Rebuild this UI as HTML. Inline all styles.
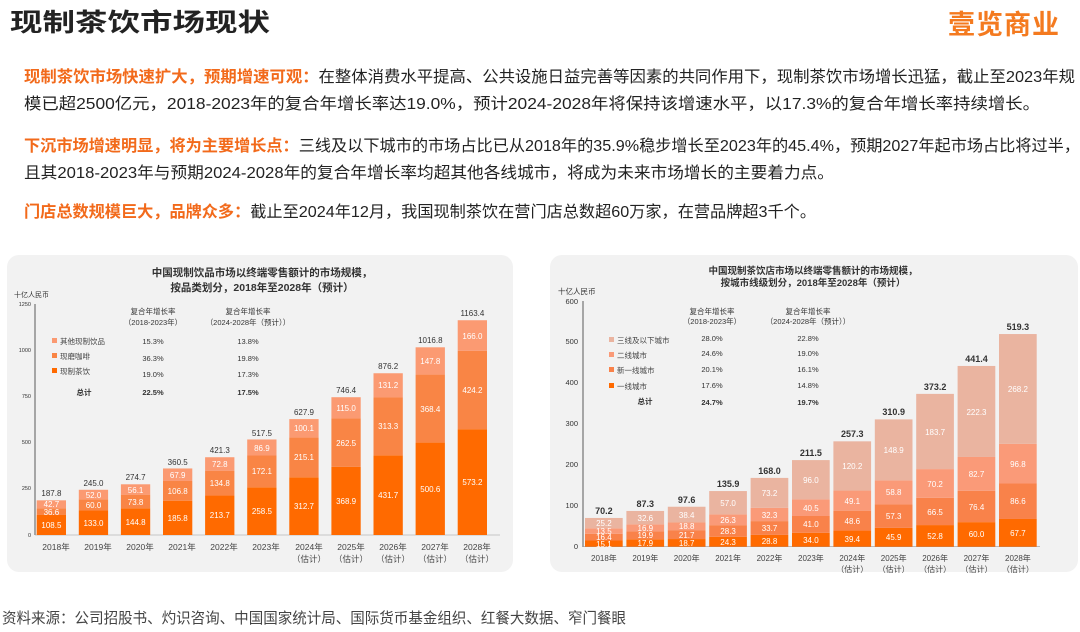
<!DOCTYPE html>
<html><head><meta charset="utf-8"><style>
body{margin:0;width:1080px;height:627px;background:#fff;overflow:hidden;font-family:"Liberation Sans","Noto Sans CJK SC",sans-serif;}
svg text{font-family:"Liberation Sans","Noto Sans CJK SC",sans-serif;}
</style></head><body>
<svg width="1080" height="627" viewBox="0 0 1080 627" xmlns="http://www.w3.org/2000/svg">
<text x="10" y="31" font-size="25" font-weight="bold" fill="#222" textLength="260" lengthAdjust="spacingAndGlyphs">现制茶饮市场现状</text>
<text x="1060" y="34" font-size="27" font-weight="bold" fill="#f47a1f" text-anchor="end" letter-spacing="1">壹览商业</text>
<g font-size="16" fill="#222">
<text x="24" y="82" textLength="1051" lengthAdjust="spacingAndGlyphs"><tspan fill="#f26a1b" font-weight="bold">现制茶饮市场快速扩大，预期增速可观：</tspan>在整体消费水平提高、公共设施日益完善等因素的共同作用下，现制茶饮市场增长迅猛，截止至2023年规</text>
<text x="24" y="109" textLength="1016" lengthAdjust="spacingAndGlyphs">模已超2500亿元，2018-2023年的复合年增长率达19.0%，预计2024-2028年将保持该增速水平，以17.3%的复合年增长率持续增长。</text>
<text x="24" y="151" textLength="1056" lengthAdjust="spacingAndGlyphs"><tspan fill="#f26a1b" font-weight="bold">下沉市场增速明显，将为主要增长点：</tspan>三线及以下城市的市场占比已从2018年的35.9%稳步增长至2023年的45.4%，预期2027年起市场占比将过半，</text>
<text x="24" y="178" textLength="810" lengthAdjust="spacingAndGlyphs">且其2018-2023年与预期2024-2028年的复合年增长率均超其他各线城市，将成为未来市场增长的主要着力点。</text>
<text x="24" y="217" textLength="792" lengthAdjust="spacingAndGlyphs"><tspan fill="#f26a1b" font-weight="bold">门店总数规模巨大，品牌众多：</tspan>截止至2024年12月，我国现制茶饮在营门店总数超60万家，在营品牌超3千个。</text>
</g>
<text x="2" y="623" font-size="15" fill="#444" textLength="624" lengthAdjust="spacingAndGlyphs">资料来源：公司招股书、灼识咨询、中国国家统计局、国际货币基金组织、红餐大数据、窄门餐眼</text>

<!-- LEFT PANEL -->
<rect x="7" y="255" width="506" height="317" rx="12" fill="#f2f2f2"/>
<g font-weight="bold" fill="#333" font-size="10.5" text-anchor="middle">
<text x="262" y="276">中国现制饮品市场以终端零售额计的市场规模，</text>
<text x="262" y="291">按品类划分，2018年至2028年（预计）</text></g>
<text x="14" y="297" font-size="7" fill="#333">十亿人民币</text>
<g font-size="5.5" fill="#333" text-anchor="end">
<text x="31" y="306">1250</text><text x="31" y="352">1000</text><text x="31" y="398">750</text><text x="31" y="444">500</text><text x="31" y="490">250</text><text x="31" y="537">0</text></g>
<line x1="35" y1="304" x2="35" y2="535" stroke="#333" stroke-width="0.8"/>
<line x1="35" y1="535" x2="500" y2="535" stroke="#999" stroke-width="0.6"/>
<g transform="translate(0,535) scale(1,-0.1846)">
<g fill="#ff6a00">
<rect x="36.7" y="0" width="29.3" height="108.5"/><rect x="78.8" y="0" width="29.3" height="133"/><rect x="120.9" y="0" width="29.3" height="144.8"/><rect x="163" y="0" width="29.3" height="185.8"/><rect x="205.1" y="0" width="29.3" height="213.7"/><rect x="247.2" y="0" width="29.3" height="258.5"/><rect x="289.3" y="0" width="29.3" height="312.7"/><rect x="331.4" y="0" width="29.3" height="368.9"/><rect x="373.5" y="0" width="29.3" height="431.7"/><rect x="415.6" y="0" width="29.3" height="500.6"/><rect x="457.7" y="0" width="29.3" height="573.2"/></g>
<g fill="#f98545">
<rect x="36.7" y="108.5" width="29.3" height="36.6"/><rect x="78.8" y="133" width="29.3" height="60"/><rect x="120.9" y="144.8" width="29.3" height="73.8"/><rect x="163" y="185.8" width="29.3" height="106.8"/><rect x="205.1" y="213.7" width="29.3" height="134.8"/><rect x="247.2" y="258.5" width="29.3" height="172.1"/><rect x="289.3" y="312.7" width="29.3" height="215.1"/><rect x="331.4" y="368.9" width="29.3" height="262.5"/><rect x="373.5" y="431.7" width="29.3" height="313.3"/><rect x="415.6" y="500.6" width="29.3" height="368.4"/><rect x="457.7" y="573.2" width="29.3" height="424.2"/></g>
<g fill="#fb9a72">
<rect x="36.7" y="145.1" width="29.3" height="42.7"/><rect x="78.8" y="193" width="29.3" height="52"/><rect x="120.9" y="218.6" width="29.3" height="56.1"/><rect x="163" y="292.6" width="29.3" height="67.9"/><rect x="205.1" y="348.5" width="29.3" height="72.8"/><rect x="247.2" y="430.6" width="29.3" height="86.9"/><rect x="289.3" y="527.8" width="29.3" height="100.1"/><rect x="331.4" y="631.4" width="29.3" height="115"/><rect x="373.5" y="745" width="29.3" height="131.2"/><rect x="415.6" y="869" width="29.3" height="147.8"/><rect x="457.7" y="997.4" width="29.3" height="166"/></g>
</g>
<g font-size="8" fill="#fff" text-anchor="middle">
<text x="51.4" y="528">108.5</text><text x="51.4" y="515">36.6</text><text x="51.4" y="507">42.7</text>
<text x="93.5" y="526">133.0</text><text x="93.5" y="508">60.0</text><text x="93.5" y="498">52.0</text>
<text x="135.6" y="525">144.8</text><text x="135.6" y="505">73.8</text><text x="135.6" y="493">56.1</text>
<text x="177.7" y="521">185.8</text><text x="177.7" y="494">106.8</text><text x="177.7" y="478">67.9</text>
<text x="219.8" y="518">213.7</text><text x="219.8" y="486">134.8</text><text x="219.8" y="467">72.8</text>
<text x="261.9" y="514">258.5</text><text x="261.9" y="474">172.1</text><text x="261.9" y="451">86.9</text>
<text x="304" y="509">312.7</text><text x="304" y="460">215.1</text><text x="304" y="431">100.1</text>
<text x="346.1" y="504">368.9</text><text x="346.1" y="446">262.5</text><text x="346.1" y="411">115.0</text>
<text x="388.2" y="498">431.7</text><text x="388.2" y="429">313.3</text><text x="388.2" y="388">131.2</text>
<text x="430.3" y="492">500.6</text><text x="430.3" y="412">368.4</text><text x="430.3" y="364">147.8</text>
<text x="472.4" y="485">573.2</text><text x="472.4" y="393">424.2</text><text x="472.4" y="339">166.0</text>
</g>
<g font-size="8" fill="#333" text-anchor="middle">
<text x="51.4" y="496">187.8</text><text x="93.5" y="486">245.0</text><text x="135.6" y="480">274.7</text><text x="177.7" y="465">360.5</text><text x="219.8" y="453">421.3</text><text x="261.9" y="436">517.5</text><text x="304" y="415">627.9</text><text x="346.1" y="393">746.4</text><text x="388.2" y="369">876.2</text><text x="430.3" y="343">1016.8</text><text x="472.4" y="316">1163.4</text>
</g>
<g font-size="8.5" fill="#444" text-anchor="middle">
<text x="56" y="550">2018年</text><text x="98" y="550">2019年</text><text x="140" y="550">2020年</text><text x="182" y="550">2021年</text><text x="224" y="550">2022年</text><text x="266" y="550">2023年</text>
<text x="309" y="550">2024年</text><text x="351" y="550">2025年</text><text x="393" y="550">2026年</text><text x="435" y="550">2027年</text><text x="477" y="550">2028年</text>
<text x="309" y="562">（估计）</text><text x="351" y="562">（估计）</text><text x="393" y="562">（估计）</text><text x="435" y="562">（估计）</text><text x="477" y="562">（估计）</text>
</g>
<g font-size="7.5" fill="#333" text-anchor="middle">
<text x="153" y="314">复合年增长率</text><text x="153" y="325">（2018-2023年）</text>
<text x="248" y="314">复合年增长率</text><text x="248" y="325">（2024-2028年（预计））</text>
<text x="153" y="344">15.3%</text><text x="153" y="361">36.3%</text><text x="153" y="377">19.0%</text><text x="153" y="395" font-weight="bold">22.5%</text>
<text x="248" y="344">13.8%</text><text x="248" y="361">19.8%</text><text x="248" y="377">17.3%</text><text x="248" y="395" font-weight="bold">17.5%</text>
<text x="84" y="395" font-weight="bold">总计</text>
</g>
<g font-size="7.5" fill="#444">
<rect x="52" y="338" width="5" height="5" fill="#fb9a72"/><text x="60" y="344">其他现制饮品</text>
<rect x="52" y="353" width="5" height="5" fill="#f98545"/><text x="60" y="359">现磨咖啡</text>
<rect x="52" y="368" width="5" height="5" fill="#ff6a00"/><text x="60" y="374">现制茶饮</text>
</g>

<!-- RIGHT PANEL -->
<rect x="550" y="255" width="528" height="317" rx="12" fill="#f2f2f2"/>
<g font-weight="bold" fill="#333" font-size="9.5" text-anchor="middle">
<text x="813" y="274">中国现制茶饮店市场以终端零售额计的市场规模，</text>
<text x="813" y="286">按城市线级划分，2018年至2028年（预计）</text></g>
<text x="558" y="294" font-size="7.5" fill="#333">十亿人民币</text>
<g font-size="7.5" fill="#333" text-anchor="end">
<text x="578" y="304">600</text><text x="578" y="344">500</text><text x="578" y="385">400</text><text x="578" y="426">300</text><text x="578" y="467">200</text><text x="578" y="508">100</text><text x="578" y="549">0</text></g>
<line x1="583" y1="301" x2="583" y2="547" stroke="#333" stroke-width="0.8"/>
<line x1="583" y1="546.7" x2="1040" y2="546.7" stroke="#999" stroke-width="0.6"/>
<g transform="translate(0,546.7) scale(1,-0.4095)">
<g fill="#ff6a00">
<rect x="585" y="0" width="37.7" height="15.1"/><rect x="626.4" y="0" width="37.7" height="17.9"/><rect x="667.8" y="0" width="37.7" height="18.7"/><rect x="709.2" y="0" width="37.7" height="24.3"/><rect x="750.6" y="0" width="37.7" height="28.8"/><rect x="792" y="0" width="37.7" height="34"/><rect x="833.4" y="0" width="37.7" height="39.4"/><rect x="874.8" y="0" width="37.7" height="45.9"/><rect x="916.2" y="0" width="37.7" height="52.8"/><rect x="957.6" y="0" width="37.7" height="60"/><rect x="999" y="0" width="37.7" height="67.7"/></g>
<g fill="#f9824a">
<rect x="585" y="15.1" width="37.7" height="16.4"/><rect x="626.4" y="17.9" width="37.7" height="19.9"/><rect x="667.8" y="18.7" width="37.7" height="21.7"/><rect x="709.2" y="24.3" width="37.7" height="28.3"/><rect x="750.6" y="28.8" width="37.7" height="33.7"/><rect x="792" y="34" width="37.7" height="41"/><rect x="833.4" y="39.4" width="37.7" height="48.6"/><rect x="874.8" y="45.9" width="37.7" height="57.3"/><rect x="916.2" y="52.8" width="37.7" height="66.5"/><rect x="957.6" y="60" width="37.7" height="76.4"/><rect x="999" y="67.7" width="37.7" height="86.6"/></g>
<g fill="#fa9a78">
<rect x="585" y="31.5" width="37.7" height="13.5"/><rect x="626.4" y="37.8" width="37.7" height="16.9"/><rect x="667.8" y="40.4" width="37.7" height="18.8"/><rect x="709.2" y="52.6" width="37.7" height="26.3"/><rect x="750.6" y="62.5" width="37.7" height="32.3"/><rect x="792" y="75" width="37.7" height="40.5"/><rect x="833.4" y="88" width="37.7" height="49.1"/><rect x="874.8" y="103.2" width="37.7" height="58.8"/><rect x="916.2" y="119.3" width="37.7" height="70.2"/><rect x="957.6" y="136.4" width="37.7" height="82.7"/><rect x="999" y="154.3" width="37.7" height="96.8"/></g>
<g fill="#eab4a0">
<rect x="585" y="45" width="37.7" height="25.2"/><rect x="626.4" y="54.7" width="37.7" height="32.6"/><rect x="667.8" y="59.2" width="37.7" height="38.4"/><rect x="709.2" y="78.9" width="37.7" height="57"/><rect x="750.6" y="94.8" width="37.7" height="73.2"/><rect x="792" y="115.5" width="37.7" height="96"/><rect x="833.4" y="137.1" width="37.7" height="120.2"/><rect x="874.8" y="162" width="37.7" height="148.9"/><rect x="916.2" y="189.5" width="37.7" height="183.7"/><rect x="957.6" y="219.1" width="37.7" height="222.3"/><rect x="999" y="251.1" width="37.7" height="268.2"/></g>
</g>
<g font-size="8" fill="#fff" text-anchor="middle">
<text x="603.9" y="547">15.1</text><text x="603.9" y="540">16.4</text><text x="603.9" y="534">13.5</text><text x="603.9" y="526">25.2</text>
<text x="645.3" y="546">17.9</text><text x="645.3" y="538">19.9</text><text x="645.3" y="531">16.9</text><text x="645.3" y="521">32.6</text>
<text x="686.7" y="546">18.7</text><text x="686.7" y="538">21.7</text><text x="686.7" y="529">18.8</text><text x="686.7" y="518">38.4</text>
<text x="728.1" y="545">24.3</text><text x="728.1" y="534">28.3</text><text x="728.1" y="523">26.3</text><text x="728.1" y="506">57.0</text>
<text x="769.5" y="544">28.8</text><text x="769.5" y="531">33.7</text><text x="769.5" y="518">32.3</text><text x="769.5" y="496">73.2</text>
<text x="810.9" y="543">34.0</text><text x="810.9" y="527">41.0</text><text x="810.9" y="511">40.5</text><text x="810.9" y="483">96.0</text>
<text x="852.3" y="542">39.4</text><text x="852.3" y="524">48.6</text><text x="852.3" y="504">49.1</text><text x="852.3" y="469">120.2</text>
<text x="893.7" y="540">45.9</text><text x="893.7" y="519">57.3</text><text x="893.7" y="495">58.8</text><text x="893.7" y="453">148.9</text>
<text x="935.1" y="539">52.8</text><text x="935.1" y="515">66.5</text><text x="935.1" y="487">70.2</text><text x="935.1" y="435">183.7</text>
<text x="976.5" y="537">60.0</text><text x="976.5" y="510">76.4</text><text x="976.5" y="477">82.7</text><text x="976.5" y="415">222.3</text>
<text x="1017.9" y="536">67.7</text><text x="1017.9" y="504">86.6</text><text x="1017.9" y="467">96.8</text><text x="1017.9" y="392">268.2</text>
</g>
<g font-size="9" font-weight="bold" fill="#333" text-anchor="middle">
<text x="603.9" y="514">70.2</text><text x="645.3" y="507">87.3</text><text x="686.7" y="503">97.6</text><text x="728.1" y="487">135.9</text><text x="769.5" y="474">168.0</text><text x="810.9" y="456">211.5</text><text x="852.3" y="437">257.3</text><text x="893.7" y="415">310.9</text><text x="935.1" y="390">373.2</text><text x="976.5" y="362">441.4</text><text x="1017.9" y="330">519.3</text>
</g>
<g font-size="8" fill="#444" text-anchor="middle">
<text x="603.9" y="561">2018年</text><text x="645.3" y="561">2019年</text><text x="686.7" y="561">2020年</text><text x="728.1" y="561">2021年</text><text x="769.5" y="561">2022年</text><text x="810.9" y="561">2023年</text>
<text x="852.3" y="561">2024年</text><text x="893.7" y="561">2025年</text><text x="935.1" y="561">2026年</text><text x="976.5" y="561">2027年</text><text x="1017.9" y="561">2028年</text>
<text x="852.3" y="572">（估计）</text><text x="893.7" y="572">（估计）</text><text x="935.1" y="572">（估计）</text><text x="976.5" y="572">（估计）</text><text x="1017.9" y="572">（估计）</text>
</g>
<g font-size="7.5" fill="#333" text-anchor="middle">
<text x="712" y="314">复合年增长率</text><text x="712" y="324">（2018-2023年）</text>
<text x="808" y="314">复合年增长率</text><text x="808" y="324">（2024-2028年（预计））</text>
<text x="712" y="341">28.0%</text><text x="712" y="356">24.6%</text><text x="712" y="372">20.1%</text><text x="712" y="388">17.6%</text><text x="712" y="405" font-weight="bold">24.7%</text>
<text x="808" y="341">22.8%</text><text x="808" y="356">19.0%</text><text x="808" y="372">16.1%</text><text x="808" y="388">14.8%</text><text x="808" y="405" font-weight="bold">19.7%</text>
<text x="645" y="404" font-weight="bold">总计</text>
</g>
<g font-size="7.5" fill="#444">
<rect x="609" y="337" width="5" height="5" fill="#eab4a0"/><text x="617" y="343">三线及以下城市</text>
<rect x="609" y="352" width="5" height="5" fill="#fa9a78"/><text x="617" y="358">二线城市</text>
<rect x="609" y="367" width="5" height="5" fill="#f9824a"/><text x="617" y="373">新一线城市</text>
<rect x="609" y="383" width="5" height="5" fill="#ff6a00"/><text x="617" y="389">一线城市</text>
</g>
</svg>
</body></html>
